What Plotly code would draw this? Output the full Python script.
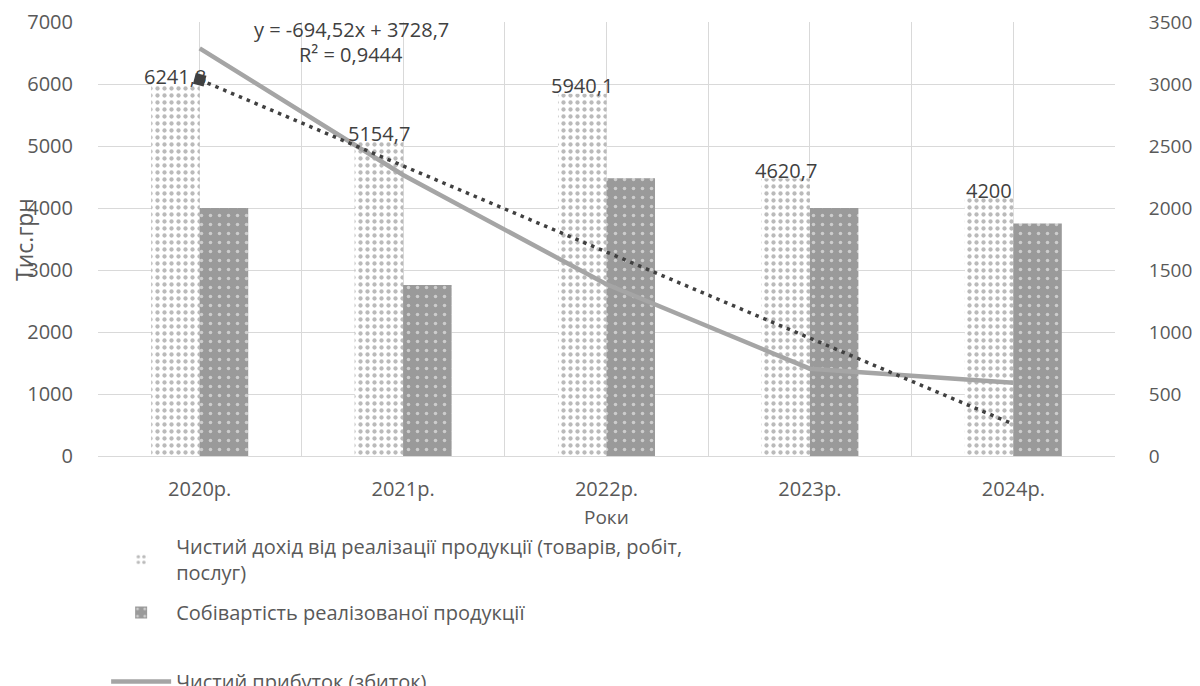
import numpy as np
import plotly.graph_objects as go

years = ["2020р.", "2021р.", "2022р.", "2023р.", "2024р."]
revenue = [6000, 5066, 5844, 4477, 4156]
revenue_labels = ["6241,8", "5154,7", "5940,1", "4620,7", "4200"]
cost = [4000, 2760, 4480, 4000, 3750]
profit = [3288, 2266, 1385, 704, 591]

# linear trendline of the profit series, as printed on the chart
trend_slope = -694.52
trend_intercept = 3728.7
trend_r2 = 0.9444

name_rev = "Чистий дохід від реалізації продукції (товарів, робіт,<br>послуг)"
name_cost = "Собівартість реалізованої продукції"
name_profit = "Чистий прибуток (збиток)"

FONT = "Open Sans, sans-serif"
TICK = "#595959"
TXT = "#404040"
GRID = "#d9d9d9"
BARGAP = 0.523

xpos = np.arange(len(years))
trend = trend_slope * (xpos + 1) + trend_intercept
bar_w = (1 - BARGAP) / 2

def ua(v, d):
    return f"{v:.{d}f}".replace(".", ",")

fig = go.Figure()
fig.add_trace(go.Bar(
    x=xpos, y=revenue, name=name_rev, legendgroup="a",
    marker=dict(color="white", line=dict(width=0),
                pattern=dict(shape=".", fgcolor="#767676", bgcolor="white", size=7, solidity=0.3)),
))
fig.add_trace(go.Bar(
    x=xpos, y=cost, name=name_cost, legendgroup="b",
    marker=dict(color="#9a9a9a", line=dict(width=0),
                pattern=dict(shape=".", fgcolor="white", bgcolor="#9a9a9a", size=9, solidity=0.12)),
))
# blank legend slot (as in the reference legend)
fig.add_trace(go.Scatter(
    x=[None], y=[None], name=" ", legendgroup="b", mode="lines",
    line=dict(color="rgba(0,0,0,0)", width=0), hoverinfo="skip",
))
fig.add_trace(go.Scatter(
    x=xpos, y=profit, name=name_profit, yaxis="y2", mode="lines", legendgroup="c",
    line=dict(color="#a5a5a5", width=4.5),
))
fig.add_trace(go.Scatter(
    x=xpos, y=trend, yaxis="y2", mode="lines", showlegend=False,
    line=dict(color="#404040", width=3.5, dash="3.5px,5px"),
))
fig.add_trace(go.Scatter(
    x=xpos[:1], y=trend[:1], yaxis="y2", mode="markers", showlegend=False,
    marker=dict(symbol="square", size=11, color="#404040", angle=15),
))

# data labels of the revenue bars
for xi, yi, lab in zip(xpos, revenue, revenue_labels):
    fig.add_annotation(x=xi - bar_w / 2, y=yi, xref="x", yref="y", text=lab, showarrow=False,
                       xanchor="center", yanchor="middle", yshift=8,
                       font=dict(family=FONT, size=20, color=TXT))

eq = f"y = {ua(trend_slope, 2)}x + {ua(trend_intercept, 1)}"
fig.add_annotation(x=0.2488, y=0.9816, xref="paper", yref="paper", text=eq, showarrow=False,
                   xanchor="center", yanchor="middle",
                   font=dict(family=FONT, size=20, color=TXT))
fig.add_annotation(x=0.2488, y=0.924, xref="paper", yref="paper",
                   text="R² = " + ua(trend_r2, 4), showarrow=False,
                   xanchor="center", yanchor="middle",
                   font=dict(family=FONT, size=20, color=TXT))
fig.add_annotation(x=-0.0728, y=0.5, xref="paper", yref="paper", text="Тис.грн", textangle=-90,
                   xanchor="center", yanchor="middle",
                   showarrow=False, font=dict(family=FONT, size=23, color=TICK))
fig.add_annotation(x=0.5, y=-0.141, xref="paper", yref="paper", text="Роки",
                   xanchor="center", yanchor="middle",
                   showarrow=False, font=dict(family=FONT, size=19, color=TICK))

fig.update_layout(
    width=1192, height=678,
    margin=dict(l=90, r=85, t=14, b=230, autoexpand=False),
    paper_bgcolor="white", plot_bgcolor="white",
    barmode="group", bargap=BARGAP, bargroupgap=0,
    font=dict(family=FONT, size=20, color=TICK),
    xaxis=dict(
        range=[-0.5, 4.5], tickvals=list(xpos), ticktext=years,
        showgrid=True, gridcolor=GRID, gridwidth=1,
        minor=dict(tickvals=list(xpos - 0.5) + [4.5], showgrid=True, gridcolor=GRID, gridwidth=1, ticks=""),
        showline=True, linecolor=GRID, linewidth=1, mirror=False,
        zeroline=False, ticks="outside", ticklen=15, tickcolor="rgba(0,0,0,0)",
        tickfont=dict(family=FONT, size=20, color=TICK),
    ),
    yaxis=dict(
        range=[0, 7000], dtick=1000, showgrid=True, gridcolor=GRID, gridwidth=1,
        zeroline=False, showline=False, ticks="outside", ticklen=20, tickcolor="rgba(0,0,0,0)",
        tickfont=dict(family=FONT, size=20, color=TICK),
    ),
    yaxis2=dict(
        range=[0, 3500], dtick=500, overlaying="y", side="right", showgrid=False,
        zeroline=False, showline=False, ticks="outside", ticklen=29, tickcolor="rgba(0,0,0,0)",
        tickfont=dict(family=FONT, size=19, color=TICK),
    ),
    legend=dict(
        x=0.008, y=-0.1636, xanchor="left", yanchor="top", orientation="v",
        font=dict(family=FONT, size=20, color=TICK), itemwidth=60,
        tracegroupgap=11, bgcolor="rgba(0,0,0,0)", maxheight=1,
    ),
    showlegend=True,
)

fig.write_html("out.html")
